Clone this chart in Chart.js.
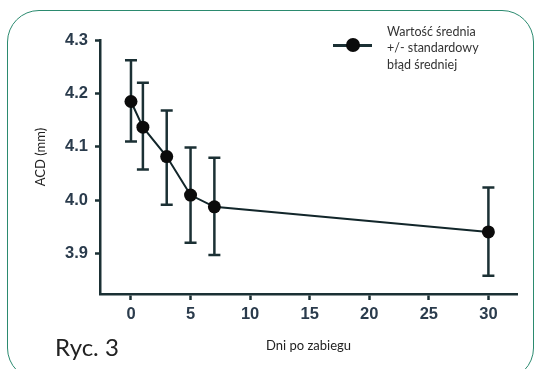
<!DOCTYPE html>
<html lang="pl">
<head>
<meta charset="utf-8">
<script src="https://cdn.jsdelivr.net/npm/chart.js@4"></script>
<style>
  html, body { margin: 0; padding: 0; background: #fff; }
  body { width: 535px; height: 369px; position: relative; overflow: hidden; font-family: Lato, "Open Sans", sans-serif; }
  #acd { position: absolute; left: 0; top: 0; }
  .frame { position: absolute; left: 7px; top: 10px; width: 525px; height: 368px; border: 1.5px solid #2b8a6f; border-radius: 32px; pointer-events: none; }
  .ryc { position: absolute; left: 55px; top: 332px; font-size: 24px; color: #222; line-height: 30px; }
  .ytitle { position: absolute; left: 40px; top: 157px; transform: translate(-50%, -50%) rotate(-90deg); font-size: 13px; color: #222; white-space: nowrap; }
  .legend-text { position: absolute; left: 387px; top: 24px; font-size: 12.5px; line-height: 16.4px; color: #333; }
  .legend-line { position: absolute; left: 333px; top: 43.5px; width: 39px; height: 3px; background: #1b3034; }
  .legend-dot { position: absolute; left: 346px; top: 38px; width: 14px; height: 14px; border-radius: 50%; background: #0b0b0b; }
</style>
</head>
<body>
<canvas id="acd" width="535" height="369"></canvas>
<div class="frame"></div>
<div class="ytitle">ACD (mm)</div>
<div class="legend-line"></div>
<div class="legend-dot"></div>
<div class="legend-text">Wartość średnia<br>+/- standardowy<br>błąd średniej</div>
<div class="ryc">Ryc. 3</div>
<script>
// dni po zabiegu i odczytane wartości ACD (mm)
const days = [0, 1, 3, 5, 7, 30];
const acdMean = [4.185, 4.137, 4.082, 4.010, 3.988, 3.941];
const acdUpper = [4.262, 4.220, 4.168, 4.099, 4.080, 4.024];
const acdLower = [4.110, 4.058, 3.992, 3.921, 3.898, 3.859];

const xTicks = [0, 5, 10, 15, 20, 25, 30];
const yTicks = [3.9, 4.0, 4.1, 4.2, 4.3];

const ink = '#1b3034';
const tickInk = '#2a3b4c';

// pionowe słupki błędu rysowane pod punktami
const errorBars = {
    id: 'errorBars',
    beforeDatasetsDraw(chart) {
        const {ctx, scales: {x, y}} = chart;
        ctx.save();
        ctx.strokeStyle = ink;
        ctx.lineWidth = 2.5;
        days.forEach((d, i) => {
            const px = x.getPixelForValue(d);
            const top = y.getPixelForValue(acdUpper[i]);
            const bottom = y.getPixelForValue(acdLower[i]);
            ctx.beginPath();
            ctx.moveTo(px, top);
            ctx.lineTo(px, bottom);
            ctx.moveTo(px - 6, top);
            ctx.lineTo(px + 6, top);
            ctx.moveTo(px - 6, bottom);
            ctx.lineTo(px + 6, bottom);
            ctx.stroke();
        });
        ctx.restore();
    }
};

new Chart(document.getElementById('acd'), {
    type: 'line',
    data: {
        datasets: [{
            data: days.map((d, i) => ({x: d, y: acdMean[i]})),
            borderColor: '#12262a',
            borderWidth: 2,
            pointRadius: 6.5,
            pointBackgroundColor: '#0b0b0b',
            pointBorderColor: '#0b0b0b',
            pointBorderWidth: 0,
            tension: 0
        }]
    },
    options: {
        responsive: false,
        animation: false,
        layout: {
            padding: {left: 0, top: 40, right: 18, bottom: 0}
        },
        plugins: {
            legend: {display: false},
            tooltip: {enabled: false}
        },
        scales: {
            x: {
                type: 'linear',
                min: -2.6,
                max: 32.4,
                afterBuildTicks: (scale) => { scale.ticks = xTicks.map(v => ({value: v})); },
                afterFit: (scale) => { scale.height = 75; },
                grid: {drawOnChartArea: false, drawTicks: true, tickLength: 6, tickColor: ink, tickWidth: 2.5},
                border: {color: ink, width: 2.5},
                ticks: {
                    padding: 5,
                    color: tickInk,
                    font: {family: '"Liberation Sans", Arial, sans-serif', size: 16.5, weight: 'bold'}
                },
                title: {
                    display: true,
                    text: 'Dni po zabiegu',
                    color: '#222',
                    font: {family: 'Lato, sans-serif', size: 13},
                    padding: {bottom: 15}
                }
            },
            y: {
                min: 3.825,
                max: 4.3,
                afterBuildTicks: (scale) => { scale.ticks = yTicks.map(v => ({value: v})); },
                afterFit: (scale) => { scale.width = 100; },
                grid: {drawOnChartArea: false, drawTicks: true, tickLength: 5, tickColor: ink, tickWidth: 2.5},
                border: {color: ink, width: 2.5},
                ticks: {
                    padding: 7,
                    color: tickInk,
                    callback: (v) => v.toFixed(1),
                    font: {family: '"Liberation Sans", Arial, sans-serif', size: 16.5, weight: 'bold'}
                }
            }
        }
    },
    plugins: [errorBars]
});
</script>
</body>
</html>
